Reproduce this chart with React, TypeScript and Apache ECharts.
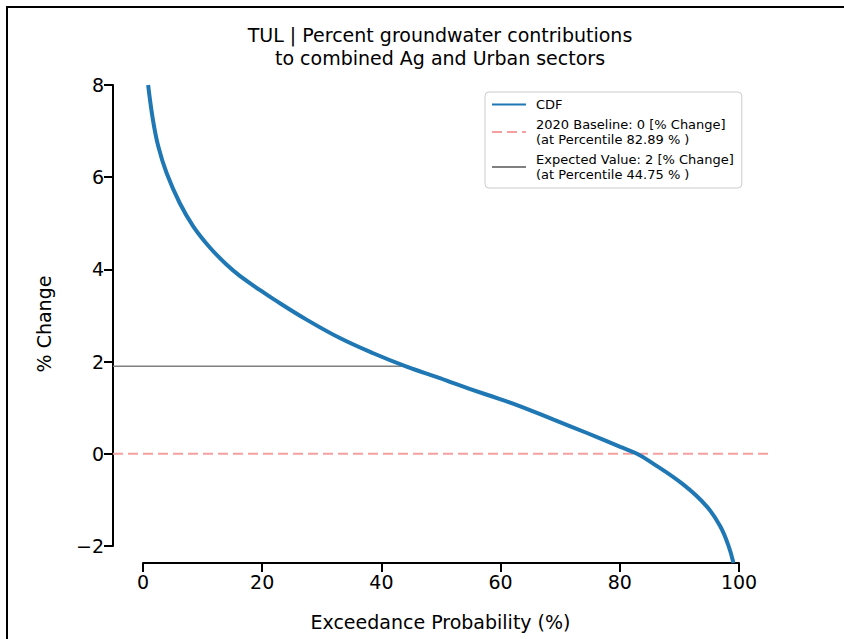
import React, { useEffect, useRef } from "react";
import * as echarts from "echarts";

// Exceedance probability (%) and % change of the CDF curve
const cdfX = [0.9, 1.7, 2.6, 4.0, 6.2, 8.5, 11.3, 14.1, 16.3, 19.7, 21.9, 27.5, 33.1, 38.7, 44.3, 49.9, 52.2, 57.8, 63.4, 69.0, 74.6, 80.2, 83.0, 85.2, 90.8, 94.7, 97.0, 98.4, 99.2];
const cdfY = [8.0, 7.25, 6.67, 6.09, 5.44, 4.93, 4.47, 4.1, 3.86, 3.55, 3.36, 2.91, 2.51, 2.18, 1.89, 1.64, 1.53, 1.28, 1.03, 0.74, 0.45, 0.15, 0.0, -0.17, -0.67, -1.14, -1.58, -2.01, -2.37];

const baselineValue = 0;
const expectedValue = 1.9;
const expectedPercentile = 44.75;

const xTicks = [0, 20, 40, 60, 80, 100];
const yTicks = [-2, 0, 2, 4, 6, 8];

const titleText = "TUL | Percent groundwater contributions\nto combined Ag and Urban sectors";
const cdfName = "CDF";
const baselineName = "2020 Baseline: 0 [% Change]\n(at Percentile 82.89 % )";
const expectedName = "Expected Value: 2 [% Change]\n(at Percentile 44.75 % )";
const xLabel = "Exceedance Probability (%)";
const yLabel = "% Change";

const FONT = "DejaVu Sans";

export default function App() {
  const ref = useRef<HTMLDivElement>(null);
  useEffect(() => {
    if (!ref.current) return;
    const chart = echarts.init(ref.current, null, { renderer: "svg" });
    const xMin = -5, xMax = 105, yMin = -2.37, yMax = 8;
    const axisFont = { fontFamily: FONT, fontSize: 19, color: "#000" };
    const spine = { show: true, lineStyle: { color: "#000", width: 2 } };
    const minusFmt = (v: number) => String(v).replace("-", "\u2212");
    chart.setOption({
      animation: false,
      backgroundColor: "#fff",
      textStyle: { fontFamily: FONT },
      graphic: [
        { type: "line", shape: { x1: 6, y1: 7, x2: 844, y2: 7 }, style: { stroke: "#000", lineWidth: 2 } },
        { type: "line", shape: { x1: 7, y1: 6, x2: 7, y2: 639 }, style: { stroke: "#000", lineWidth: 2 } },
        {
          type: "text",
          x: 440,
          y: 46,
          style: {
            text: titleText,
            fontFamily: FONT,
            fontSize: 19,
            lineHeight: 23,
            fill: "#000",
            textAlign: "center",
            textVerticalAlign: "middle",
          },
        },
      ],
      legend: {
        orient: "vertical",
        left: 485,
        top: 92,
        padding: [5, 8, 6, 6],
        itemGap: 5,
        itemWidth: 34,
        itemHeight: 14,
        borderColor: "#cccccc",
        borderWidth: 1,
        borderRadius: 4,
        backgroundColor: "rgba(255,255,255,0.8)",
        itemStyle: { opacity: 0 },
        data: [cdfName, baselineName, expectedName],
        textStyle: { fontFamily: FONT, fontSize: 13, lineHeight: 15, color: "#000", padding: [0, 0, 0, 5] },
      },
      grid: [
        { left: 113, right: 76, top: 85, bottom: 76 },
        { left: 143, right: 105, top: 85, bottom: 76 },
        { left: 113, right: 76, top: 85, bottom: 93 },
      ],
      xAxis: [
        {
          gridIndex: 0, type: "value", min: xMin, max: xMax,
          axisLine: { show: false }, axisTick: { show: false }, axisLabel: { show: false }, splitLine: { show: false },
          name: xLabel, nameLocation: "middle", nameGap: 49, nameTextStyle: axisFont,
        },
        {
          gridIndex: 1, type: "value", min: xTicks[0], max: xTicks[xTicks.length - 1], interval: 20,
          axisLine: spine,
          axisTick: { show: true, length: 9, lineStyle: { color: "#000", width: 2 } },
          axisLabel: { ...axisFont, margin: 9 },
          splitLine: { show: false },
        },
        { gridIndex: 2, type: "value", min: 0, max: 1, show: false },
      ],
      yAxis: [
        {
          gridIndex: 0, type: "value", min: yMin, max: yMax,
          axisLine: { show: false }, axisTick: { show: false }, axisLabel: { show: false }, splitLine: { show: false },
          name: yLabel, nameLocation: "middle", nameGap: 60, nameTextStyle: axisFont,
        },
        { gridIndex: 1, type: "value", min: 0, max: 1, show: false },
        {
          gridIndex: 2, type: "value", min: yTicks[0], max: yTicks[yTicks.length - 1], interval: 2,
          axisLine: spine,
          axisTick: { show: true, length: 9, lineStyle: { color: "#000", width: 2 } },
          axisLabel: { ...axisFont, margin: 9, formatter: minusFmt },
          splitLine: { show: false },
        },
      ],
      series: [
        {
          name: baselineName,
          type: "line",
          xAxisIndex: 0, yAxisIndex: 0,
          data: [[xMin, baselineValue], [xMax, baselineValue]],
          symbol: "none",
          lineStyle: { color: "#f4a0a0", width: 2, type: [10, 5] },
          itemStyle: { color: "#f4a0a0" },
          z: 1,
        },
        {
          name: expectedName,
          type: "line",
          xAxisIndex: 0, yAxisIndex: 0,
          data: [[xMin, expectedValue], [expectedPercentile, expectedValue]],
          symbol: "none",
          lineStyle: { color: "#808080", width: 1.5 },
          itemStyle: { color: "#808080" },
          z: 1,
        },
        {
          name: cdfName,
          type: "line",
          xAxisIndex: 0, yAxisIndex: 0,
          data: cdfX.map((x, i) => [x, cdfY[i]]),
          symbol: "none",
          smooth: 0.4,
          lineStyle: { color: "#1f77b4", width: 4 },
          itemStyle: { color: "#1f77b4" },
          z: 3,
        },
      ],
    });
    return () => chart.dispose();
  }, []);
  return <div ref={ref} style={{ position: "absolute", left: 0, top: 0, width: 844, height: 639 }} />;
}
